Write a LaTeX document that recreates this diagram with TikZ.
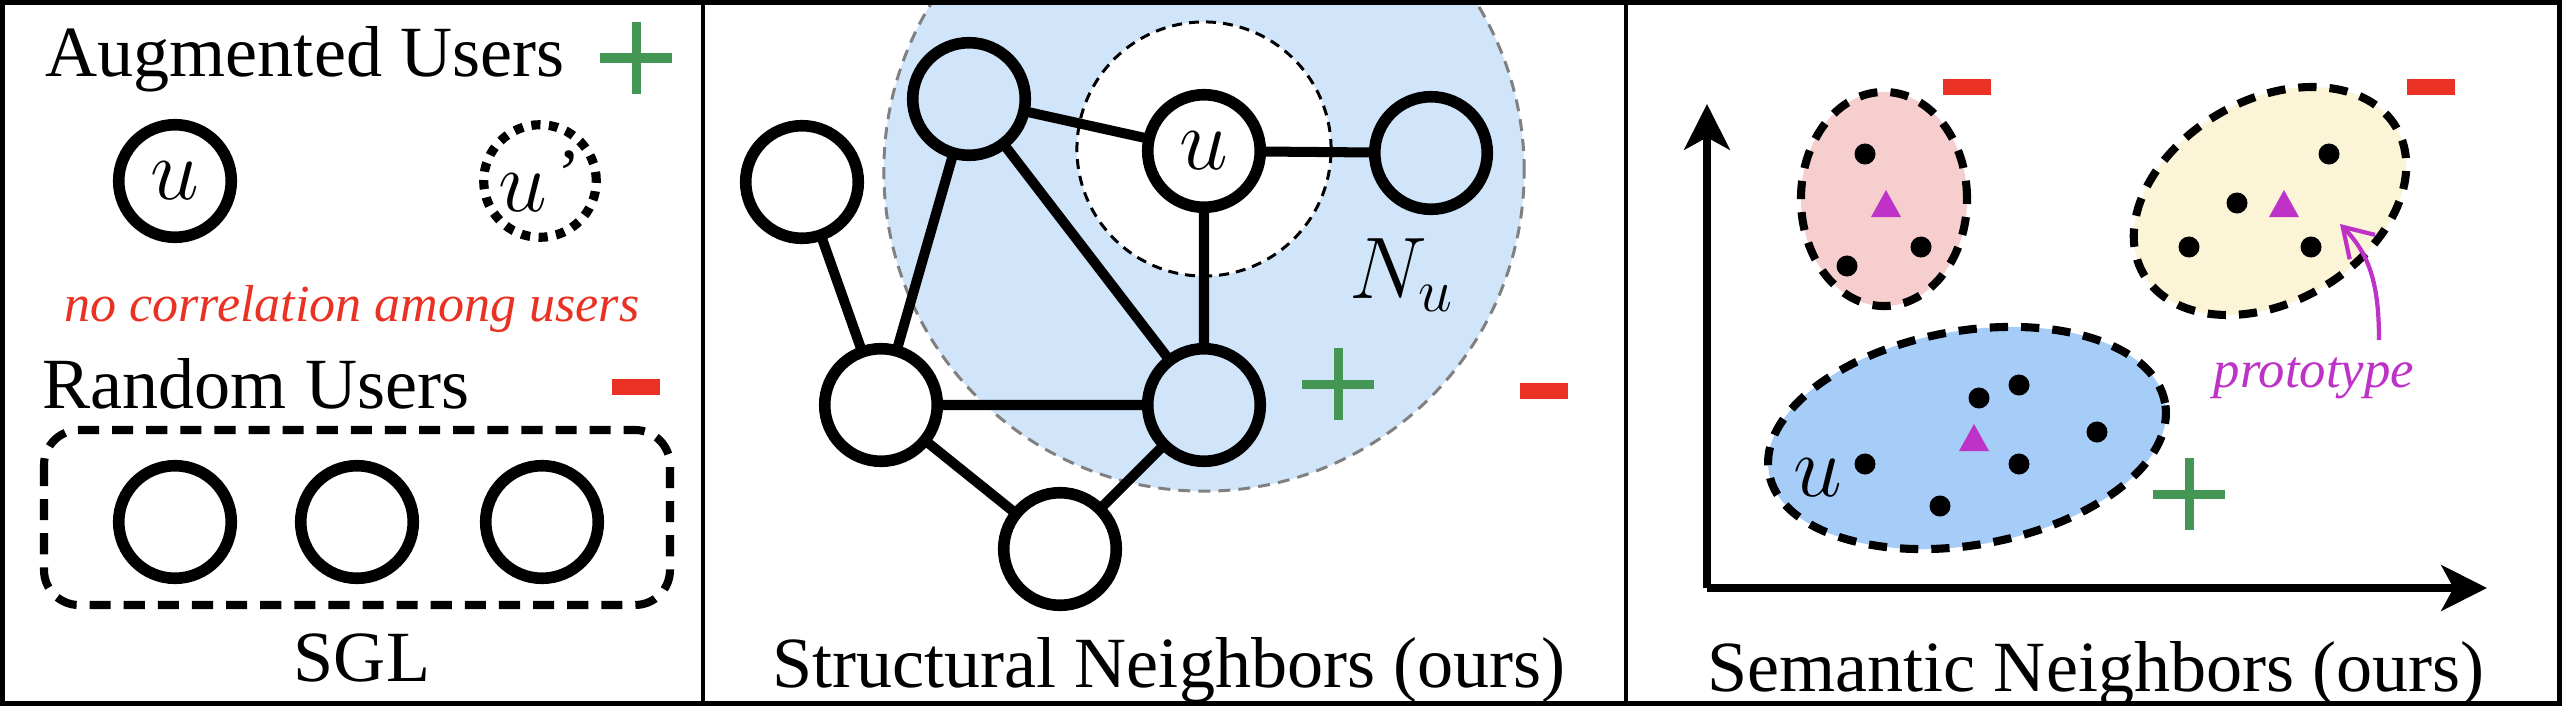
\documentclass[tikz,border=0pt]{standalone}
\usepackage{fontspec}
\setmainfont{Liberation Serif}
\usetikzlibrary{shapes.geometric,arrows.meta}
\definecolor{regionblue}{RGB}{208,228,250}
\definecolor{pinkfill}{RGB}{246,206,206}
\definecolor{yellowfill}{RGB}{252,244,214}
\definecolor{ellblue}{RGB}{166,205,248}
\definecolor{plusgreen}{RGB}{67,150,84}
\definecolor{minusred}{RGB}{233,50,35}
\definecolor{protomag}{RGB}{190,50,200}
\newcommand\plusmark[1]{\draw[plusline] (#1) +(-36,0) -- +(36,0) +(0,-36) -- +(0,36);}
\newcommand\minusmark[1]{\fill[minusred] (#1) +(-24,-8) rectangle +(24,8);}
\newcommand\protomark[1]{\fill[protomag] (#1) +(0,-15) -- +(15,12) -- +(-15,12) -- cycle;}
\begin{document}
\begin{tikzpicture}[x=0.01cm,y=-0.01cm,
  usernode/.style={circle, draw, line width=3.3pt, minimum size=1.125cm, inner sep=0pt, fill=white, font=\fontsize{24}{28}\selectfont},
  graphedge/.style={line width=2.85pt},
  lbl/.style={font=\fontsize{20.5}{24}\selectfont, inner sep=0pt},
  plusline/.style={plusgreen, line width=2.56pt},
  cluster/.style={ellipse, draw, line width=2.3pt, dash pattern=on 5.2pt off 3.7pt, inner sep=0pt},
  axisline/.style={line width=2pt, -{Stealth[length=13pt, width=13pt, inset=3.5pt]}},
]
\useasboundingbox (0,0) rectangle (2562,706);
\fill[white] (0,0) rectangle (2562,706);

% ---------------- left panel ----------------
\node[lbl, anchor=base west] (aug) at (45,76) {Augmented Users};
\plusmark{636,58}
\node[usernode] (ua) at (175,181) {$u$};
\node[usernode, line width=2.6pt, dash pattern=on 2.6pt off 2.4pt] (ub) at (540,181) {$u$\kern3pt\raisebox{4pt}{\fontsize{20}{20}\selectfont ’}};
\node[lbl, anchor=base, text=minusred, font=\fontsize{14.8}{18}\selectfont\itshape] (nocorr) at (352,321) {no correlation among users};
\node[lbl, anchor=base west] (rand) at (42,408) {Random Users};
\minusmark{636,387}
\draw[line width=2.3pt, dash pattern=on 6pt off 3.7pt, rounded corners=0.35cm] (44,430) rectangle (670,605);
\node[usernode] (r1) at (175,522) {};
\node[usernode] (r2) at (357,522) {};
\node[usernode] (r3) at (542,522) {};
\node[lbl, anchor=base] (sgl) at (362,681) {SGL};

% ---------------- middle panel ----------------
\begin{scope}
\clip (703,0) rectangle (1626,706);
\fill[regionblue] (1204,171) circle (3.2cm);
\draw[gray, line width=0.85pt, dash pattern=on 3.4pt off 2.3pt] (1204,171) circle (3.2cm);
\end{scope}
\fill[white] (1204,149) circle (1.27cm);
\draw[line width=0.85pt, dash pattern=on 2.85pt off 2pt] (1204,149) circle (1.27cm);

\coordinate (cTL) at (969,99);
\coordinate (cU) at (1204,151);
\coordinate (cR) at (1431,153);
\coordinate (cFL) at (802,182);
\coordinate (cLL) at (881,405);
\coordinate (cLR) at (1204,405);
\coordinate (cB) at (1060,549);
\draw[graphedge] (cTL) -- (cU) (cU) -- (cR) (cU) -- (cLR) (cTL) -- (cLL) (cTL) -- (cLR)
  (cFL) -- (cLL) (cLL) -- (cLR) (cLL) -- (cB) (cB) -- (cLR);
\node[usernode, fill=regionblue] (TL) at (cTL) {};
\node[usernode] (U) at (cU) {$u$};
\node[usernode, fill=regionblue] (R) at (cR) {};
\node[usernode] (FL) at (cFL) {};
\node[usernode] (LL) at (cLL) {};
\node[usernode, fill=regionblue] (LR) at (cLR) {};
\node[usernode] (B) at (cB) {};
\node[inner sep=0pt, font=\fontsize{24}{28}\selectfont] (Nu) at (1402,275) {$N_u$};
\plusmark{1338,384}
\minusmark{1544,391}
\node[lbl, anchor=base] (structlbl) at (1169,687) {Structural Neighbors (ours)};

% ---------------- right panel ----------------
\coordinate (orig) at (1707,588);
\coordinate (ytip) at (1707,104);
\coordinate (xtip) at (2487,588);
\draw[axisline] (orig) -- (ytip);
\draw[axisline] (orig) -- (xtip);

\node[cluster, fill=pinkfill, minimum width=1.66cm, minimum height=2.14cm] (pinkc) at (1884,199) {};
\node[cluster, fill=yellowfill, minimum width=2.92cm, minimum height=2.02cm, rotate=30] (yelc) at (2270,201) {};
\node[cluster, fill=ellblue, minimum width=4.02cm, minimum height=2.14cm, rotate=10] (bluec) at (1967,438) {};

\foreach \p in {{1865,154},{1921,247},{1847,266},
                {2329,154},{2237,203},{2189,247},{2311,247},
                {2019,385},{1979,398},{2097,432},{1865,464},{2019,464},{1940,506}}
  \fill (\p) circle (0.105cm);
\protomark{1886,205}
\protomark{2284,205}
\protomark{1974,439}

\node[inner sep=0pt, font=\fontsize{24}{28}\selectfont] (ulbl) at (1818,478) {$u$};
\minusmark{1967,87}
\minusmark{2431,87}
\plusmark{2189,494}

\node[lbl, anchor=base, text=protomag, font=\fontsize{15}{18}\selectfont\itshape] (proto) at (2314,387) {prototype};
\coordinate (arrstart) at (2379,340);
\coordinate (arrend) at (2340,224);
\draw[protomag, line width=1.2pt, -{Straight Barb[length=8pt, width=10pt]}] (arrstart) .. controls (2379,285) and (2370,255) .. (arrend);

\node[lbl, anchor=base] (semlbl) at (2096,691) {Semantic Neighbors (ours)};

% ---------------- frame ----------------
\draw[line width=1.4pt] (2.5,2.5) rectangle (2559.5,703.5);
\draw[line width=1.4pt] (703,0) -- (703,706);
\draw[line width=1.4pt] (1626,0) -- (1626,706);
\end{tikzpicture}
\end{document}
